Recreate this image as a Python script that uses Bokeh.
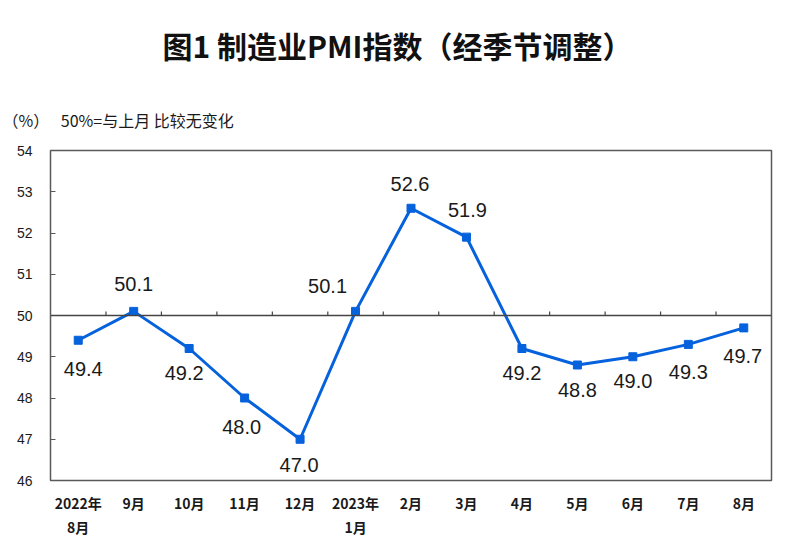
from bokeh.plotting import figure
from bokeh.models import Span, Title, FixedTicker, Range1d
from bokeh.core.properties import value
from bokeh.embed import file_html
from bokeh.resources import INLINE

months = ["2022年\n8月", "9月", "10月", "11月", "12月", "2023年\n1月", "2月", "3月",
          "4月", "5月", "6月", "7月", "8月"]
pmi = [49.4, 50.1, 49.2, 48.0, 47.0, 50.1, 52.6, 51.9, 49.2, 48.8, 49.0, 49.3, 49.7]
y_ticks = [46, 47, 48, 49, 50, 51, 52, 53, 54]

# label placement offsets (screen px)
label_dx = [5, 0, -5, -3, -1, -28, -1, 1, 0, 0, 0, 0, -1]
label_dy = [29, -27, 24, 29, 26, -25, -24, -27, 24, 25, 24, 28, 28]

xs = list(range(len(months)))

p = figure(width=805, height=539, output_backend="svg", toolbar_location=None,
           x_range=Range1d(-0.5, len(months) - 0.5), y_range=Range1d(46, 54),
           min_border_left=50, min_border_right=34, min_border_top=149, min_border_bottom=59)

p.xgrid.visible = False
p.ygrid.visible = False
p.outline_line_color = "#5a5a5a"
p.outline_line_width = 1.5
p.background_fill_color = "white"
p.border_fill_color = "white"

# y axis
p.yaxis.ticker = FixedTicker(ticks=y_ticks)
p.yaxis.axis_line_color = None
p.yaxis.major_tick_in = 5
p.yaxis.major_tick_out = 0
p.yaxis.major_tick_line_color = "#5a5a5a"
p.yaxis.major_tick_line_width = 1.2
p.yaxis.minor_tick_line_color = None
p.yaxis.major_label_standoff = 18
p.yaxis.major_label_text_font = "Liberation Sans"
p.yaxis.major_label_text_font_size = "14px"
p.yaxis.major_label_text_color = "#1a1a1a"

# x axis
p.xaxis.ticker = FixedTicker(ticks=xs)
p.xaxis.major_label_overrides = {i: m for i, m in enumerate(months)}
p.xaxis.axis_line_color = None
p.xaxis.major_tick_line_color = None
p.xaxis.minor_tick_line_color = None
p.xaxis.major_label_standoff = 6
p.xaxis.major_label_text_font = "Noto Sans CJK SC"
p.xaxis.major_label_text_font_style = "bold"
p.xaxis.major_label_text_font_size = "14px"
p.xaxis.major_label_text_color = "#1a1a1a"
p.xaxis.major_label_text_line_height = 1.2

# 50 line and its ticks
p.add_layout(Span(location=50, dimension="width", line_color="#444444", line_width=1.5))
bx = [i + 0.5 for i in xs[:-1]]
p.segment(x0=bx, y0=[50] * len(bx), x1=bx, y1=[50.1] * len(bx),
          line_color="#444444", line_width=1.2)

# series
blue = "#0562dc"
p.line(xs, pmi, line_color=blue, line_width=3)
p.scatter(xs, pmi, marker="square", size=8, fill_color=blue, line_color=blue)

p.text(x=xs, y=pmi, text=[f"{v:.1f}" for v in pmi], x_offset=label_dx, y_offset=label_dy,
       text_font=value("Liberation Sans"), text_font_size="20px", text_color="#1a1a1a",
       text_align="center", text_baseline="middle")

# titles (inner first)
p.add_layout(Title(text="（%）　  50%=与上月 比较无变化", align="left", offset=-48,
                   text_font="Noto Sans CJK SC", text_font_style="normal",
                   text_font_size="16px", text_color="#1a1a1a", standoff=38), "above")
p.add_layout(Title(text="图1 制造业PMI指数（经季节调整）", align="left", offset=112,
                   text_font="Noto Sans CJK SC", text_font_style="bold",
                   text_font_size="30px", text_color="#111111", standoff=40), "above")

open("out.html", "w").write(file_html(p, INLINE))
